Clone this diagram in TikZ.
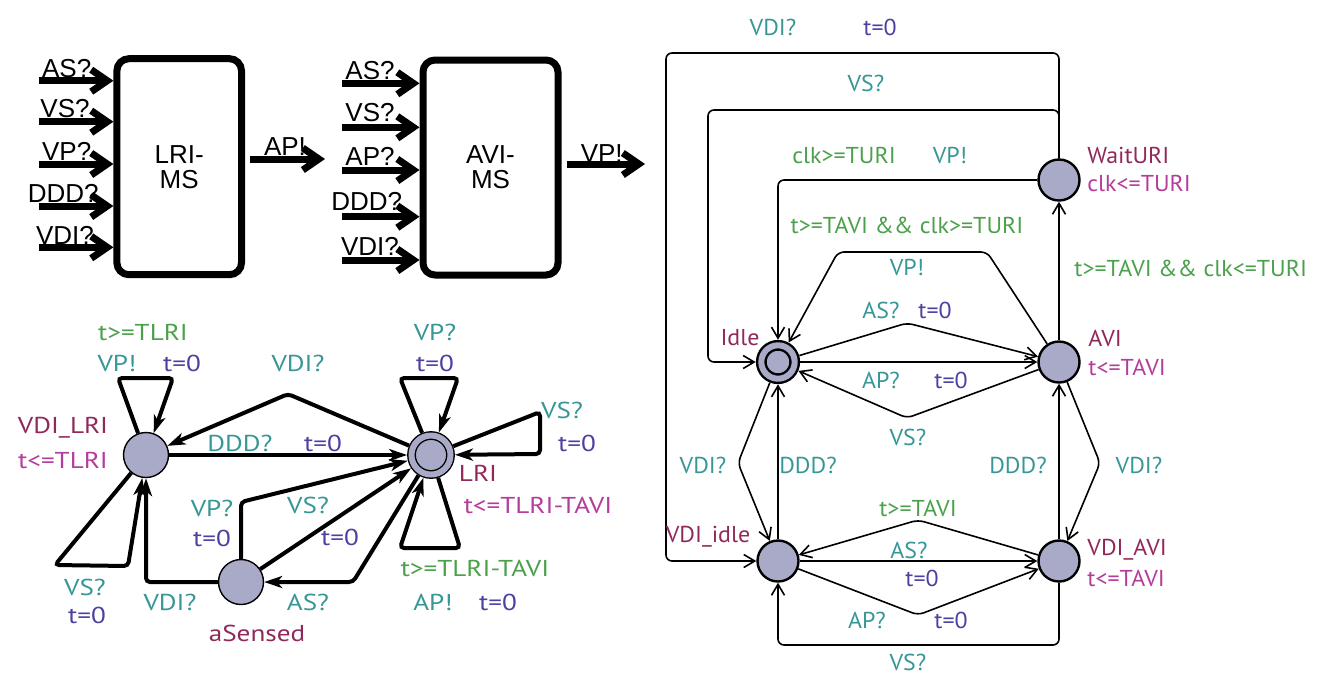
\documentclass[tikz,border=0pt]{standalone}
\usepackage{fontspec}
\setmainfont{PT Sans}
\newfontfamily\blockfont{Liberation Sans}
\newfontfamily\lrifont[FakeStretch=1.18]{PT Sans}
\newfontfamily\avifont[FakeStretch=1.04]{PT Sans}
\usepackage{tikz}
\usetikzlibrary{arrows.meta}
\definecolor{loc_fill}{RGB}{168,170,200}
\definecolor{loc_name}{RGB}{145,40,90}
\definecolor{inv_pink}{RGB}{180,60,155}
\definecolor{guard_green}{RGB}{75,160,75}
\definecolor{sync_teal}{RGB}{55,150,150}
\definecolor{upd_blue}{RGB}{75,65,160}

\begin{document}
\begin{tikzpicture}[x=0.5pt,y=-0.5pt,font=\fontsize{11.5}{13}\selectfont]
    \tikzstyle{msbox}=[draw=black, line width=3.5pt, rounded corners=6pt, align=center, inner sep=0pt, font=\blockfont\fontsize{13}{12.5}\selectfont]
    \tikzstyle{bigarrow}=[line width=3.5pt, -{Straight Barb[length=8pt,width=11pt]}]
    \tikzstyle{biglbl}=[anchor=base, inner sep=0pt, font=\blockfont\fontsize{13}{13}\selectfont]
    \tikzstyle{lriloc}=[draw=black, circle, fill=loc_fill, minimum size=22.5pt, inner sep=0pt, line width=0.7pt]
    \tikzstyle{aviloc}=[draw=black, circle, fill=loc_fill, minimum size=20.5pt, inner sep=0pt, line width=1.2pt]
    \tikzstyle{lriedge}=[line width=2pt, rounded corners=2pt, -{Stealth[length=9pt,width=6pt,inset=2.5pt]}]
    \tikzstyle{aviedge}=[line width=0.8pt, rounded corners=3pt, -{Straight Barb[length=5.5pt,width=6.5pt]}]
    \tikzstyle{lname}=[text=loc_name, inner sep=0pt]
    \tikzstyle{linv}=[text=inv_pink, inner sep=0pt]
    \tikzstyle{lguard}=[text=guard_green, inner sep=0pt]
    \tikzstyle{lsync}=[text=sync_teal, inner sep=0pt]
    \tikzstyle{lupd}=[text=upd_blue, inner sep=0pt]

    \useasboundingbox (0,0) rectangle (1331,682);

    % block diagram
    \node[msbox, minimum width=62.3pt, minimum height=108pt] (lrims) at (179.2,166.7) {LRI-\\MS};
    \node[msbox, minimum width=67.5pt, minimum height=107.5pt] (avims) at (490.5,167.5) {AVI-\\MS};

    \coordinate (lin1) at (39,80.7);
    \coordinate (lin2) at (39,121.7);
    \coordinate (lin3) at (39,164);
    \coordinate (lin4) at (39,206);
    \coordinate (lin5) at (39,247.3);
    \draw[bigarrow] (lin1) -- (lin1 -| lrims.west);
    \draw[bigarrow] (lin2) -- (lin2 -| lrims.west);
    \draw[bigarrow] (lin3) -- (lin3 -| lrims.west);
    \draw[bigarrow] (lin4) -- (lin4 -| lrims.west);
    \draw[bigarrow] (lin5) -- (lin5 -| lrims.west);
    \node[biglbl] (lrias) at (66.7,77.3) {AS?};
    \node[biglbl] (lrivs) at (65,117.7) {VS?};
    \node[biglbl] (lrivp) at (66.7,160.7) {VP?};
    \node[biglbl] (lriddd) at (63.3,202.3) {DDD?};
    \node[biglbl] (lrivdi) at (65,244) {VDI?};

    \coordinate (ain1) at (341.7,83.3);
    \coordinate (ain2) at (341.7,127.3);
    \coordinate (ain3) at (341.7,170);
    \coordinate (ain4) at (341.7,216.7);
    \coordinate (ain5) at (341.7,260);
    \draw[bigarrow] (ain1) -- (ain1 -| avims.west);
    \draw[bigarrow] (ain2) -- (ain2 -| avims.west);
    \draw[bigarrow] (ain3) -- (ain3 -| avims.west);
    \draw[bigarrow] (ain4) -- (ain4 -| avims.west);
    \draw[bigarrow] (ain5) -- (ain5 -| avims.west);
    \node[biglbl] (avias) at (370,79.3) {AS?};
    \node[biglbl] (avivs) at (370,121.7) {VS?};
    \node[biglbl] (aviap) at (370,165) {AP?};
    \node[biglbl] (aviddd) at (366.7,210) {DDD?};
    \node[biglbl] (avivdi) at (370,255) {VDI?};

    \coordinate (apin) at (250,159);
    \coordinate (apout) at (325,159);
    \draw[bigarrow] (apin) -- (apout);
    \node[biglbl] (apsend) at (285,155) {AP!};
    \coordinate (vpin) at (566.7,164);
    \coordinate (vpout) at (645,164);
    \draw[bigarrow] (vpin) -- (vpout);
    \node[biglbl] (vpsend) at (601.7,162.7) {VP!};

    % LRI automaton
    \begin{scope}[every node/.append style={font=\lrifont\fontsize{11.5}{13}\selectfont}]
    \node[lriloc] (vdilri) at (146,455) {};
    \node[lriloc, line width=0.7pt, double=loc_fill, double distance=3pt, minimum size=19.5pt, outer sep=2.2pt] (lri) at (431,455) {};
    \node[lriloc] (asensed) at (241,582) {};

    \draw[lriedge] (vdilri) -- (118,378) -- (173,378) -- (vdilri);
    \draw[lriedge] (vdilri) -- (55,565) -- (128,566) -- (vdilri);
    \draw[lriedge] (asensed) -| (vdilri);
    \draw[lriedge] (vdilri) -- (lri);
    \draw[lriedge] (lri) -- (288,394) -- (vdilri);
    \draw[lriedge] (lri) -- (400,378) -- (458,378) -- (lri);
    \draw[lriedge] (lri) -- (540,412) -- (540,454) -- (lri);
    \draw[lriedge] (lri) -- (460,548) -- (400,548) -- (lri);
    \draw[lriedge] (asensed) -- (241,502) -- (lri);
    \draw[lriedge] (asensed) -- (lri);
    \draw[lriedge] (lri) -- (353,582) -- (asensed);

    \node[lguard] (g1) at (143,332) {t>=TLRI};
    \node[lsync] (s1) at (117,363) {VP!};
    \node[lupd] (u1) at (182,363) {t=0};
    \node[lsync] (s2) at (298,363) {VDI?};
    \node[lname] (n1) at (63,428) {VDI\_LRI};
    \node[linv] (i1) at (63,460) {t<=TLRI};
    \node[lsync] (s3) at (240,443) {DDD?};
    \node[lupd] (u3) at (323,443) {t=0};
    \node[lsync] (s4) at (435,332) {VP?};
    \node[lupd] (u4) at (435,363) {t=0};
    \node[lsync] (s5) at (562,410) {VS?};
    \node[lupd] (u5) at (577,443) {t=0};
    \node[lname] (n2) at (478,473) {LRI};
    \node[linv] (i2) at (538,505) {t<=TLRI-TAVI};
    \node[lsync] (s6) at (212,508) {VP?};
    \node[lupd] (u6) at (212,538) {t=0};
    \node[lsync] (s7) at (308,505) {VS?};
    \node[lupd] (u7) at (340,537) {t=0};
    \node[lguard] (g8) at (475,568) {t>=TLRI-TAVI};
    \node[lsync] (s8) at (433,602) {AP!};
    \node[lupd] (u8) at (498,602) {t=0};
    \node[lsync] (s9) at (85,587) {VS?};
    \node[lupd] (u9) at (87,615) {t=0};
    \node[lsync] (s10) at (170,602) {VDI?};
    \node[lsync] (s11) at (308,602) {AS?};
    \node[lname] (n3) at (257,633) {aSensed};
    \end{scope}

    % AVI automaton
    \begin{scope}[every node/.append style={font=\avifont\fontsize{11.5}{13}\selectfont}]
    \node[aviloc] (waituri) at (1059,180) {};
    \node[aviloc, double=loc_fill, double distance=3pt, minimum size=16.7pt, outer sep=2.8pt] (idle) at (778,362) {};
    \node[aviloc] (avi) at (1059,362) {};
    \node[aviloc] (vdiidle) at (778,561) {};
    \node[aviloc] (vdiavi) at (1059,561) {};

    \draw[aviedge] (waituri) |- (666,53) |- (vdiidle);
    \draw[aviedge] (waituri) |- (708,110) |- (idle);
    \draw[aviedge] (waituri) -| (idle);
    \draw[aviedge] (avi) -- (waituri);
    \draw[aviedge] (avi) -- (987,252) -- (838,252) -- (idle);
    \draw[aviedge] (idle) -- (907,323) -- (avi);
    \draw[aviedge] (idle) -- (avi);
    \draw[aviedge] (avi) -- (907,418) -- (idle);
    \draw[aviedge] (idle) -- (738,463) -- (vdiidle);
    \draw[aviedge] (vdiidle) -- (idle);
    \draw[aviedge] (vdiavi) -- (avi);
    \draw[aviedge] (avi) -- (1100,463) -- (vdiavi);
    \draw[aviedge] (vdiavi) -- (918,520) -- (vdiidle);
    \draw[aviedge] (vdiidle) -- (vdiavi);
    \draw[aviedge] (vdiidle) -- (918,615) -- (vdiavi);
    \draw[aviedge] (vdiavi) |- (918,645) -| (vdiidle);

    \node[lsync] (s21) at (773,27) {VDI?};
    \node[lupd] (u21) at (880,27) {t=0};
    \node[lsync] (s22) at (866,83) {VS?};
    \node[lguard] (g23) at (844,155) {clk>=TURI};
    \node[lsync] (s23) at (950,155) {VP!};
    \node[lname, anchor=west] (n21) at (1087,155) {WaitURI};
    \node[linv, anchor=west] (i21) at (1087,183) {clk<=TURI};
    \node[lguard] (g25) at (907,225) {t>=TAVI \&\& clk>=TURI};
    \node[lsync] (s25) at (907,267) {VP!};
    \node[lguard, anchor=west] (g24) at (1074,268) {t>=TAVI \&\& clk<=TURI};
    \node[lsync] (s26) at (881,310) {AS?};
    \node[lupd] (u26) at (935,310) {t=0};
    \node[lname] (n22) at (740,338) {Idle};
    \node[lname, anchor=west] (n23) at (1088,338) {AVI};
    \node[linv, anchor=west] (i23) at (1088,367) {t<=TAVI};
    \node[lsync] (s27) at (881,380) {AP?};
    \node[lupd] (u27) at (951,380) {t=0};
    \node[lsync] (s28) at (908,437) {VS?};
    \node[lsync] (s29) at (703,465) {VDI?};
    \node[lsync] (s30) at (808,465) {DDD?};
    \node[lsync] (s31) at (1018,465) {DDD?};
    \node[lsync] (s32) at (1139,465) {VDI?};
    \node[lguard] (g33) at (918,508) {t>=TAVI};
    \node[lname] (n24) at (708,537) {VDI\_idle};
    \node[lsync] (s34) at (909,550) {AS?};
    \node[lupd] (u34) at (922,578) {t=0};
    \node[lname, anchor=west] (n25) at (1087,550) {VDI\_AVI};
    \node[linv, anchor=west] (i25) at (1087,578) {t<=TAVI};
    \node[lsync] (s35) at (867,620) {AP?};
    \node[lupd] (u35) at (951,620) {t=0};
    \node[lsync] (s36) at (908,662) {VS?};
    \end{scope}
\end{tikzpicture}
\end{document}
